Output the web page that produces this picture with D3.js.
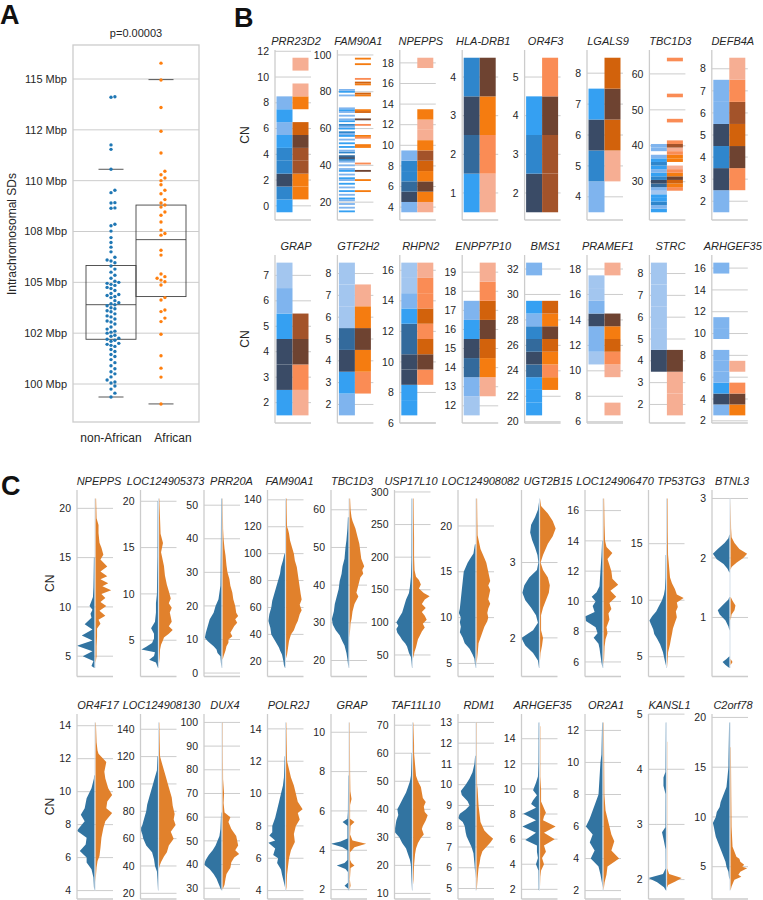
<!DOCTYPE html>
<html lang="en">
<head>
<meta charset="UTF-8">
<title>CN panels</title>
<script src="https://d3js.org/d3.v7.min.js"></script>
<style>
  body { margin: 0; background: #fff; }
  svg { display: block; font-family: "Liberation Sans", Arial, sans-serif; }
</style>
</head>
<body>
<svg></svg>
<script>
const width = 763, height = 900;
const gridCol = "#cccccc", textCol = "#262626";

// ---------- panel A data ----------
const aGroups = ["non-African", "African"];
const aTicks = [100, 102.5, 105, 107.5, 110, 112.5, 115];
const aTickLabels = ["100 Mbp", "102 Mbp", "105 Mbp", "108 Mbp", "110 Mbp", "112 Mbp", "115 Mbp"];
const aNonAfr = [114.13, 114.1, 111.76, 111.54, 110.56, 109.53, 109.41, 108.92, 108.9, 108.66, 108.64,
  107.86, 107.78, 107.52, 107.2, 106.96, 106.73, 106.5, 106.23, 106.1, 106.05, 105.96, 105.8, 105.65,
  105.5, 105.35, 105.2, 105.05, 105.0, 104.95, 104.9, 104.85, 104.75, 104.7, 104.6, 104.45, 104.4,
  104.35, 104.3, 104.25, 104.1, 104.0, 103.95, 103.9, 103.85, 103.75, 103.7, 103.6, 103.55, 103.45,
  103.35, 103.3, 103.2, 103.1, 103.05, 102.95, 102.8, 102.7, 102.6, 102.55, 102.5, 102.4, 102.35,
  102.25, 102.2, 102.15, 102.1, 102.0, 101.95, 101.9, 101.85, 101.7, 101.6, 101.45, 101.35, 101.2,
  101.05, 100.9, 100.75, 100.6, 100.5, 100.35, 100.2, 100.1, 100.05, 99.9, 99.75, 99.55, 99.36];
const aAfr = [115.78, 114.95, 113.6, 112.43, 111.36, 110.46, 110.29, 110.13, 110.0, 109.8, 109.53,
  109.36, 109.07, 108.9, 108.8, 108.7, 108.46, 108.3, 107.97, 107.57, 107.4, 107.32, 106.58, 106.34,
  105.41, 105.28, 105.2, 105.11, 105.03, 104.87, 104.25, 104.13, 103.64, 103.56, 103.24, 103.07,
  102.45, 101.39, 100.78, 100.34, 99.02];
const aQ1 = [102.2, 104.3];
const aMed = [103.9, 107.1];
const aQ3 = [105.83, 108.8];
const aWhisLo = [99.36, 99.02];
const aWhisHi = [110.56, 114.97];

// ---------- panel B data : [CN, colour level] ----------
const bGenes = ["PRR23D2", "FAM90A1", "NPEPPS", "HLA-DRB1", "OR4F3", "LGALS9", "TBC1D3", "DEFB4A",
  "GRAP", "GTF2H2", "RHPN2", "ENPP7P10", "BMS1", "PRAMEF1", "STRC", "ARHGEF35"];
const bTicks = [
  [0, 2, 4, 6, 8, 10, 12], [20, 40, 60, 80, 100], [4, 6, 8, 10, 12, 14, 16, 18], [1, 2, 3, 4],
  [2, 3, 4, 5], [4, 5, 6, 7, 8], [30, 40, 50, 60], [2, 3, 4, 5, 6, 7, 8],
  [2, 3, 4, 5, 6, 7], [2, 3, 4, 5, 6, 7, 8], [6, 8, 10, 12, 14, 16], [12, 13, 14, 15, 16, 17, 18, 19],
  [20, 22, 24, 26, 28, 30, 32], [6, 8, 10, 12, 14, 16, 18], [2, 3, 4, 5, 6, 7, 8], [2, 4, 6, 8, 10, 12, 14, 16]
];
const bNonAfr = [
  [[0,2],[1,3],[2,5],[3,3],[4,3],[5,2],[6,1],[7,2],[8,1]],
  [[15,2],[17,1],[19,1],[21,1],[22,2],[24,1],[26,2],[28,1],[30,2],[32,1],[33,2],[35,1],[37,2],[38,1],
   [40,1],[42,1],[43,3],[44,5],[45,4],[47,3],[48,1],[50,2],[52,2],[54,1],[56,2],[57,1],[58,3],[60,2],
   [61,1],[62,3],[64,2],[65,1],[67,1],[69,1],[70,2],[71,1],[78,1],[80,2],[81,1]],
  [[4,1],[5,5],[6,4],[7,3],[8,3],[9,1]],
  [[1,2],[2,4],[3,5],[4,3]],
  [[2,5],[3,3],[4,2]],
  [[4,1],[5,3],[6,5],[7,2]],
  [[22,2],[23,1],[24,3],[25,2],[26,2],[27,0],[28,1],[29,4],[30,5],[31,3],[32,2],[33,1],[34,2],[35,3],
   [36,2],[37,1],[39,1],[40,1]],
  [[2,1],[3,5],[4,3],[5,5],[6,1],[7,1]],
  [[2,2],[3,5],[4,5],[5,2],[6,1],[7,0]],
  [[2,1],[3,2],[4,5],[5,4],[6,0],[7,0],[8,0]],
  [[7,2],[8,2],[9,5],[10,5],[11,4],[12,4],[13,2],[14,1],[15,0],[16,0]],
  [[12,0],[13,1],[14,4],[15,5],[16,2],[17,1]],
  [[21,2],[22,2],[23,2],[24,4],[25,5],[26,4],[27,3],[28,1],[29,2],[32,1]],
  [[11,0],[12,1],[13,1],[14,5],[15,1],[16,0],[17,0]],
  [[4,5],[5,0],[6,0],[7,0],[8,0]],
  [[3,1],[4,5],[5,2],[6,1],[7,1],[8,1],[10,1],[11,1],[16,1]]
];
const bAfr = [
  [[1,2],[2,2],[3,4],[4,4],[5,5],[6,3],[8,2],[9,0],[11,0]],
  [[26,2],[32,2],[37,5],[41,1],[50,2],[51,2],[55,1],[56,2],[62,1],[65,5],[69,3],[70,2],[78,2],[79,3],
   [84,2],[85,3],[87,1],[95,2],[98,2]],
  [[4,0],[5,2],[6,5],[7,2],[8,3],[9,4],[10,2],[11,0],[12,0],[13,2],[18,0]],
  [[1,0],[2,1],[3,2],[4,5]],
  [[2,4],[3,4],[4,5],[5,1]],
  [[5,0],[6,3],[7,5],[8,3]],
  [[28,1],[29,2],[30,3],[31,5],[32,2],[33,1],[34,0],[36,2],[37,2],[38,1],[39,0],[40,4],[41,1],
   [47,1],[54,1],[64,1]],
  [[3,1],[4,5],[5,3],[6,4],[7,1],[8,0]],
  [[2,0],[3,1],[4,5],[5,4]],
  [[3,1],[4,2],[5,5],[6,2],[7,0]],
  [[9,1],[10,5],[11,3],[12,1],[13,3],[14,1],[15,1],[16,0]],
  [[13,0],[14,2],[15,3],[16,5],[17,3],[18,1],[19,0]],
  [[23,2],[24,1],[25,2],[26,3],[27,5],[28,2],[29,3]],
  [[7,0],[10,0],[11,1],[12,3],[13,2],[14,5],[18,0]],
  [[2,0],[3,0],[4,5]],
  [[3,2],[4,5],[5,1],[7,0]]
];
const bBluePal = ["#a3c6ef", "#7fb4ee", "#35a0f2", "#2f86cc", "#336a9c", "#3a4b66"];
const bOrangePal = ["#f6ae93", "#fa8c55", "#f57c10", "#d2620c", "#a3532a", "#6e4331"];

// ---------- panel C data : [CN, half width] ----------
const cGenes = ["NPEPPS", "LOC124905373", "PRR20A", "FAM90A1", "TBC1D3", "USP17L10", "LOC124908082",
  "UGT2B15", "LOC124906470", "TP53TG3", "BTNL3",
  "OR4F17", "LOC124908130", "DUX4", "POLR2J", "GRAP", "TAF11L10", "RDM1", "ARHGEF35", "OR2A1",
  "KANSL1", "C2orf78"];
const cTicks = [
  [5, 10, 15, 20], [5, 10, 15, 20], [0, 10, 20, 30, 40, 50], [20, 40, 60, 80, 100, 120, 140],
  [20, 30, 40, 50, 60], [50, 100, 150, 200, 250, 300], [5, 10, 15, 20], [2, 3],
  [6, 8, 10, 12, 14, 16], [5, 10, 15, 20], [1, 2, 3],
  [4, 6, 8, 10, 12, 14], [20, 40, 60, 80, 100, 120, 140], [30, 40, 50, 60, 70, 80, 90, 100],
  [4, 6, 8, 10, 12, 14], [2, 4, 6, 8, 10], [10, 20, 30, 40, 50, 60, 70], [5, 6, 7, 8, 9, 10, 11, 12, 13],
  [2, 4, 6, 8, 10, 12, 14, 16], [2, 4, 6, 8, 10, 12], [2, 3, 4, 5], [5, 10, 15, 20]
];
const cNonAfr = [
  [[15,0.5],[13,0.8],[12,1],[11,1.5],[10.6,3],[10.1,5],[9.7,2],[9.3,4],[8.9,3],[8.24,10],[7.7,2],[7.1,13],
   [6.6,2],[6.07,18],[5.5,2],[5.0,12],[4.5,1],[4.0,3],[3.8,0]],
  [[20,0.3],[14,0.5],[12,0.8],[10,1],[9,2],[8,2],[7,3],[6.3,7],[5.7,4],[5.2,4],[4.7,6],[4.3,12],[4.0,17],
   [3.7,3],[3.3,4],[2.9,9],[2.6,2],[2.3,1],[2.0,0]],
  [[52,0.3],[40,0.5],[30,0.8],[26,1],[24,2],[22,3],[20,6],[18,8],[16,12],[14,14],[12,16],[10.5,17],
   [9.5,14],[8,8],[7,5],[6,4],[5,1],[3,0.5],[1.5,0]],
  [[100,0.5],[95,2],[90,4],[85,5],[80,7],[75,9],[70,11],[65,13],[60,14],[55,16],[50,17],[45,15],[40,14],
   [35,10],[30,6],[28,5],[25,3],[20,1.5],[17,1],[15,0]],
  [[58,0.5],[55,1],[52,2],[50,3],[47,4],[45,6],[43,7],[41,9],[39,10],[37,12],[35,14],[33,15],[31,17],
   [29.5,16],[28,13],[26.7,9],[25,6],[24,4],[22,2],[20.3,1],[18,0]],
  [[290,0.3],[200,0.5],[170,1],[155,2],[145,3],[135,6],[125,8],[115,10],[108,13],[100,16],[95,14],
   [90,16],[84,15],[78,12],[73,10],[68,7],[63,5],[58,4],[53,3],[47,1],[40,0.5],[30,0]],
  [[18,0.5],[17,2],[16.5,5],[16,8],[15.5,10],[15,12],[14,13],[13,14],[12,15],[11,16],[10.5,17],[10,15],
   [9.5,16],[9,15],[8.4,16],[7.8,13],[7.2,11],[6.6,6],[6,3],[5.5,1],[5,0.5],[4.5,0]],
  [[3.8,0],[3.7,1],[3.6,4],[3.5,8],[3.4,9],[3.3,7],[3.2,4],[3.1,1.5],[3.0,0.5],[2.9,2],[2.8,10],[2.7,15],
   [2.6,17],[2.5,14],[2.4,8],[2.3,3],[2.2,1],[2.1,6],[2.0,18],[1.9,14],[1.8,6],[1.7,1],[1.6,0]],
  [[14,0.3],[13,1],[12,2],[11,3],[10.6,6],[10.3,11],[10,7],[9.7,10],[9.3,8],[9,18],[8.7,17],[8.3,7],
   [7.9,5],[7.6,9],[7.2,4],[6.9,3],[6.45,2],[6,1],[5.6,0]],
  [[14,0.3],[12,0.5],[11,1],[10.5,2],[10,4],[9.5,7],[9,10],[8.6,14],[8.2,17],[7.8,15],[7.4,13],[7,12],
   [6.6,9],[6.1,6],[5.4,3],[4.6,1],[4.2,0]],
  [[2.4,0],[2.33,1],[2.25,5],[2.15,12],[2.07,17],[1.98,13],[1.9,6],[1.82,2],[1.75,0],[1.35,0],[1.3,1],
   [1.22,6],[1.12,12],[1.05,10],[0.95,4],[0.85,1],[0.78,0],[0.35,0],[0.3,3],[0.25,7],[0.2,4],[0.15,0]],
  [[11,0.3],[10.8,0.5],[10.2,3],[9.6,8],[9.0,10],[8.6,14],[8.2,10],[7.63,18],[7.2,8],[6.8,9],[6.4,15],
   [6.0,8],[5.7,8],[5.3,3],[4.8,1],[4.2,0.5],[4.0,0]],
  [[120,0.5],[110,1],[105,3],[100,5],[95,7],[90,9],[85,11],[80,12],[75,14],[70,16],[67,18],[63,16],
   [60,15],[55,12],[50,6],[45,4],[40,3],[36,1],[30,0.5],[22,0]],
  [[62,0.3],[55,1],[52,2],[50,4],[48,6],[46,9],[44,13],[42,16],[40,18],[38,12],[36,8],[34,5],[32,3],
   [30,1],[29,0]],
  [[12.3,0.3],[11,1],[10.5,2],[10,4],[9.5,6],[9,8],[8.5,10],[8,13],[7.6,13],[7.4,16],[7.1,10],[6.96,17],
   [6.6,10],[6.2,12],[6,7],[5.7,8],[5.3,4],[5,3],[4.5,1],[4.2,0]],
  [[7.8,0.3],[6,0.5],[5.6,1],[5.44,6],[5.25,1],[4.6,1],[4.45,8],[4.33,18],[4.15,6],[4.0,1],[3.5,1],
   [3.35,4],[3.22,12],[3.05,3],[2.9,0.5],[2.35,0.5],[2.19,4],[2.05,0.5],[1.95,0]],
  [[60,0.3],[52,1],[50,2],[48,4],[46,6],[44,9],[42,12],[40,15],[38,14],[36,16],[34,17],[32,18],[30,13],
   [28,10],[26,6],[24,4],[22,2],[20,1],[15,0.5],[11,0]],
  [[11.4,0.3],[11,1],[10.6,3],[10.3,6],[10,10],[9.7,15],[9.5,14],[9.2,8],[9.0,6],[8.8,10],[8.6,16],
   [8.4,18],[8.2,13],[8,11],[7.7,10],[7.5,9],[7.2,6],[7,4],[6.7,2],[6.2,1],[5.8,0.3],[5.5,0]],
  [[15.3,0.3],[12,0.5],[11,1],[10.5,3],[9.9,6],[9.5,2],[9.1,6],[8.8,8],[8.5,3],[8.02,16],[7.5,3],
   [7.0,17],[6.5,3],[5.94,14],[5.5,2],[5.0,2],[4.5,1],[4.0,3],[3.5,0.5],[2,0.3],[1.9,0]],
  [[12.5,0.3],[10.5,1],[10,2],[9,3],[8,4],[7.5,7],[7,10],[6.5,13],[6,17],[5.5,10],[5,13],[4.5,8],
   [4,12],[3.5,4],[3,2],[2.5,0.5],[2.2,0]],
  [[4.85,0.2],[3.95,0.5],[3.85,2.5],[3.7,2.5],[3.55,0.4],[2.95,0.5],[2.86,4],[2.7,2],[2.55,0.4],
   [2.2,0.3],[2.1,3],[2.03,18],[1.95,9],[1.86,2],[1.8,0]],
  [[19.5,0.3],[15.5,1],[15,1],[14,2],[13,3],[12.5,5],[12,7],[11.5,9],[11,10],[10.5,13],[10,14],
   [9.4,17],[9,16],[8.5,15],[8,14],[7.5,12],[7,10],[6.5,8],[6,6],[5.5,4],[5,3],[4.5,1],[4,0.5],[3.7,0]]
];
const cAfr = [
  [[21,0.5],[19,1],[18.3,3],[17.5,3],[16.5,4],[16,6],[15.3,8],[14.8,5],[14.1,12],[13.6,5],[13.1,12],
   [12.8,5],[12.4,13],[12.1,7],[11.7,16],[11.3,6],[10.9,10],[10.5,5],[10.1,11],[9.6,4],[9.1,10],[8.7,3],
   [8.3,5],[7.8,1.5],[7,1.5],[6,1],[5,1],[4.3,0]],
  [[20.3,0.3],[18,1],[16.5,1.5],[15.5,4],[14.5,2],[14,3],[13,5],[12,6],[11,8],[10.3,10],[9.5,12],[9,10],
   [8.5,13],[8,11],[7.5,12],[7,13],[6.5,10],[6.1,14],[5.7,10],[5.3,5],[5,4],[4.5,2],[4,1],[3,0.5],[2.5,0]],
  [[52,0.2],[43,0.5],[40,1],[37,2],[35,3],[32,4],[30,5],[28,7],[26,8],[24,10],[22,11],[20,13],[18,14],
   [17,16],[16,13],[15,15],[14,12],[12,8],[11,10],[10,6],[9,6],[8,4],[6.7,3],[5,1],[4,0]],
  [[141,0.5],[130,0.7],[120,1],[118,2],[115,3],[110,4],[105,6],[100,8],[95,9],[90,11],[85,12],[80,13],
   [75,14],[70,15],[66,16],[62,14],[58,16],[55,14],[50,12],[47,10],[43,8],[40,5],[35,3],[30,2],[25,1],[22,0]],
  [[63,0.5],[60,1],[58,2],[57,3],[55,6],[53,8],[51,10],[49,11],[47,12],[45,15],[44,13],[43,14],[42,11],
   [40,9],[38,7],[37,9],[35,5],[33,3],[31,2],[30,1],[28,0.5],[26,0]],
  [[290,0.5],[260,0.7],[230,1],[200,1],[180,1.5],[170,3],[165,6],[158,8],[152,6],[145,11],[140,17],
   [135,12],[128,9],[122,13],[116,9],[110,12],[104,14],[98,10],[92,12],[86,9],[80,7],[74,5],[68,4],
   [62,3],[55,1.5],[48,0.5],[45,0]],
  [[23,0.5],[21,0.7],[19,1],[18.5,2],[17.5,4],[17,6],[16.5,8],[16,10],[15.5,11],[15,12],[14.5,13],[14,14],
   [13.5,12],[13,14],[12.5,13],[12,12],[11.5,14],[11,12],[10.5,11],[10,12],[9.6,11],[9,8],[8.4,6],[7.8,4],
   [7.2,2],[6,1],[5,0]],
  [[3.85,0],[3.75,1],[3.65,8],[3.55,13],[3.45,16],[3.35,13],[3.25,8],[3.1,3],[3.0,0.5],[2.9,3],[2.8,8],
   [2.7,10],[2.6,9],[2.5,6],[2.4,3],[2.3,1],[2.1,1],[2.0,3],[1.9,2],[1.8,0.5],[1.7,0]],
  [[16.8,0.5],[15,1],[14,1.5],[13.6,3],[13.2,9],[12.8,4],[12.4,6],[12,8],[11.5,9],[11.1,15],[10.7,7],
   [10.3,13],[9.9,6],[9.5,8],[9.2,5],[8.8,6],[8.3,3],[7.9,4],[7.5,2],[7,1],[6.2,0.5],[5.8,0]],
  [[19,0.5],[16,0.7],[14,1],[13,2],[12,3],[11.5,5],[11,8],[10.5,10],[10.2,17],[9.8,10],[9.4,11],[9,9],
   [8.5,10],[8,8],[7.5,6],[7,5],[6.6,4],[6.1,3],[5.4,1],[4.6,0.5],[4,0]],
  [[3.0,0],[2.5,0.5],[2.35,1],[2.25,4],[2.15,9],[2.07,17],[2.0,13],[1.92,6],[1.85,1],[1.8,0],[1.35,0],
   [1.28,2],[1.2,5],[1.12,4],[1.05,1],[0.95,0],[0.3,0],[0.25,2],[0.2,0]],
  [[14.2,0.3],[13,1],[12.5,2],[12.3,3],[11.8,11],[11.2,9],[10.8,10],[10.2,13],[9.8,17],[9.4,12],[9.0,11],
   [8.7,17],[8.2,10],[7.8,8],[7.2,6],[6.6,5],[6.1,4],[5.8,2],[5.4,1],[5.0,0.5],[4.5,0]],
  [[145,0.3],[130,0.7],[120,1],[115,3],[110,5],[105,7],[100,9],[95,11],[90,13],[84,14],[78,16],[74,15],
   [70,17],[65,12],[60,15],[55,10],[50,8],[47,5],[43,2],[40,0.5],[38,0]],
  [[100,0.3],[90,0.3],[76,0.5],[70,1.5],[66,1],[62,2],[60,8],[58,6],[55,9],[52,14],[50,15],[48,16],
   [46,13],[44.4,17],[43,12],[41,9],[38.6,8],[36,4],[34,3],[31.5,2],[30,0.5],[29.5,0]],
  [[14.4,0.3],[13,0.7],[12,1],[11.5,3],[11,5],[10.5,8],[10,10],[9.5,12],[9.03,17],[8.8,12],[8.4,14],
   [8,10],[7.5,8],[7,9],[6.5,5],[6,3],[5.5,2],[5,1],[4.2,0.5],[4,0]],
  [[10.5,0.3],[8,0.5],[7,0.8],[6.6,2],[6.3,0.5],[5.6,0.5],[5.44,5],[5.25,1],[4.8,0.5],[4.5,3],[4.33,17],
   [4.15,5],[3.9,0.5],[3.5,0.5],[3.35,2],[3.22,5],[3.1,1],[2.5,0.3],[2.2,1],[2.0,0]],
  [[71,0.3],[63,1],[60,1],[56,2],[52,3],[50,5],[48,8],[46,9],[44,10],[42.6,13],[41,11],[39,12],[37.9,15],
   [36,13],[34,10],[33,9],[31,11],[29.8,8],[28,5],[26,3],[24,2],[20,1],[15,0.5],[13,0]],
  [[13,0.3],[11,0.3],[10,0.5],[9.8,1],[9,2],[8.6,3],[8.2,4],[8,6],[7.8,8],[7.6,12],[7.4,17],[7.2,14],
   [7,10],[6.8,6],[6.5,4],[6.2,3],[6,2],[5.5,1],[5,0.3],[4.9,0]],
  [[15,0.3],[11,0.3],[10,1],[9,1],[8.1,6],[7.8,4],[7.5,3],[7.0,16],[6.5,4],[6.0,15],[5.5,4],[5.0,6],
   [4.5,2],[4.0,4],[3.5,1],[3,0.3],[2.2,0]],
  [[12.5,0.3],[8,0.8],[7,2],[6.5,4],[6,6],[5.5,8],[5.08,11],[4.5,8],[4,16],[3.5,4],[3,3],[2.5,1],[2,0]],
  [[4.5,0.2],[2.2,0.2],[2.1,2],[2.03,15],[1.97,9],[1.9,1],[1.85,0]],
  [[17,0.3],[12,0.7],[9,1],[8,1.5],[7,2],[6.5,4],[6,6],[5.8,9],[5.5,10],[5.2,14],[5,12],[4.84,17],
   [4.5,10],[4.2,8],[4,11],[3.7,4],[3.5,3],[3,1],[2.6,0]]
];
const cBlue = "#3274a1", cOrange = "#e1812c";

// top-row titles of panel C are nudged apart so the long names do not collide
const cTitleShift = [1, 4, 6.5, 1, 0, -4.5, 1.5, 5.5, 9, 11.5, -1];

const svg = d3.select("svg")
    .attr("width", width)
    .attr("height", height);

// panel letters
[["A", 0, 24], ["B", 234, 27], ["C", 1, 495]].forEach(([t, x, y]) => {
  svg.append("text").attr("x", x).attr("y", y).text(t)
    .attr("font-size", 27).attr("font-weight", "bold").attr("fill", "#111");
});

function swarm(vals, cx, yS, r) {
  const placed = [];
  const dmin = 2 * r + 0.5;
  vals.slice().sort((a, b) => a - b).forEach(v => {
    const py = yS(v);
    let k = 0, px = cx;
    while (true) {
      const off = k === 0 ? 0 : (k % 2 ? 1 : -1) * Math.ceil(k / 2) * dmin;
      px = cx + off;
      const hit = placed.some(p => (p.x - px) ** 2 + (p.y - py) ** 2 < dmin * dmin);
      if (!hit) break;
      k++;
    }
    placed.push({ x: px, y: py });
  });
  return placed;
}

// ================= PANEL A =================
{
  const left = 73, right = 199, top = 45, bottom = 422;
  const y = d3.scaleLinear().domain([100, 115]).range([384, 79]);
  const xBox = d3.scaleBand().domain(aGroups).range([86, 186]);
  const xLab = d3.scalePoint().domain(aGroups).range([111, 173]);
  const g = svg.append("g");

  g.selectAll(".agrid").data(aTicks).join("line")
    .attr("x1", left).attr("x2", right)
    .attr("y1", d => y(d)).attr("y2", d => y(d))
    .attr("stroke", gridCol).attr("stroke-width", 1);
  g.selectAll(".atick").data(aTicks).join("text")
    .attr("x", left - 6).attr("y", d => y(d)).attr("dy", "0.35em")
    .attr("text-anchor", "end").attr("font-size", 11).attr("fill", textCol)
    .text((d, i) => aTickLabels[i]);
  g.append("rect").attr("x", left).attr("y", top).attr("width", right - left).attr("height", bottom - top)
    .attr("fill", "none").attr("stroke", gridCol).attr("stroke-width", 1.3);
  g.append("text").attr("transform", "translate(16,234) rotate(-90)")
    .attr("text-anchor", "middle").attr("font-size", 12).attr("fill", textCol)
    .text("Intrachromosomal SDs");
  g.append("text").attr("x", (left + right) / 2).attr("y", 37).attr("text-anchor", "middle")
    .attr("font-size", 11).attr("fill", textCol).text("p=0.00003");
  g.selectAll(".alab").data(aGroups).join("text")
    .attr("x", d => xLab(d)).attr("y", 442).attr("text-anchor", "middle")
    .attr("font-size", 12).attr("fill", textCol).text(d => d);

  aGroups.forEach((grp, i) => {
    const x0 = xBox(grp), bw = xBox.bandwidth(), cx = x0 + bw / 2;
    g.append("rect").attr("x", x0).attr("y", y(aQ3[i])).attr("width", bw)
      .attr("height", y(aQ1[i]) - y(aQ3[i]))
      .attr("fill", "none").attr("stroke", "#444").attr("stroke-width", 0.9);
    g.append("line").attr("x1", x0).attr("x2", x0 + bw).attr("y1", y(aMed[i])).attr("y2", y(aMed[i]))
      .attr("stroke", "#444").attr("stroke-width", 0.9);
    [aWhisLo[i], aWhisHi[i]].forEach(v => {
      g.append("line").attr("x1", cx - 12.5).attr("x2", cx + 12.5).attr("y1", y(v)).attr("y2", y(v))
        .attr("stroke", "#444").attr("stroke-width", 0.9);
    });
    const vals = i === 0 ? aNonAfr : aAfr;
    const pts = swarm(vals, cx, y, 1.7);
    g.selectAll(".pt" + i).data(pts).join("circle")
      .attr("cx", d => d.x).attr("cy", d => d.y).attr("r", 1.7)
      .attr("fill", i === 0 ? "#1f77b4" : "#ff7f0e");
  });
}

// ================= PANEL B =================
bGenes.forEach((gene, i) => {
  const row = i < 8 ? 0 : 1, col = i % 8;
  const ax = 275 + col * 62.4;
  const top = row ? 255 : 50, bottom = row ? 423 : 220;
  const all = bNonAfr[i].concat(bAfr[i]).map(d => d[0]);
  const lo = d3.min(all) - 0.5, hi = d3.max(all) + 0.5, pad = (hi - lo) * 0.05;
  const y = d3.scaleLinear().domain([lo - pad, hi + pad]).range([bottom, top]);
  const ticks = bTicks[i].filter(t => t >= lo - pad - 1e-6 && t <= hi + pad + 1e-6);
  const g = svg.append("g");

  g.selectAll("line.grid").data(ticks).join("line")
    .attr("x1", ax).attr("x2", ax + 36).attr("y1", d => y(d)).attr("y2", d => y(d))
    .attr("stroke", gridCol).attr("stroke-width", 1);
  g.selectAll("text.tick").data(ticks).join("text")
    .attr("x", ax - 6).attr("y", d => y(d)).attr("dy", "0.35em").attr("text-anchor", "end")
    .attr("font-size", 10.5).attr("fill", textCol).text(d => d);

  const cell = (data, x0, pal) => g.append("g").selectAll("rect").data(data).join("rect")
    .attr("x", x0).attr("width", 16)
    .attr("y", d => y(d[0] + 0.5)).attr("height", d => y(d[0] - 0.5) - y(d[0] + 0.5))
    .attr("fill", d => pal[d[1]]);
  cell(bNonAfr[i], ax + 1.5, bBluePal);
  cell(bAfr[i], ax + 17.5, bOrangePal);

  g.append("line").attr("x1", ax).attr("x2", ax).attr("y1", top).attr("y2", bottom)
    .attr("stroke", gridCol).attr("stroke-width", 1.3);
  g.append("line").attr("x1", ax).attr("x2", ax + 36).attr("y1", bottom).attr("y2", bottom)
    .attr("stroke", gridCol).attr("stroke-width", 1.3);
  g.append("text").attr("x", ax + 21).attr("y", top - 5).attr("text-anchor", "middle")
    .attr("font-size", 11).attr("font-style", "italic").attr("fill", textCol).text(gene);
  if (col === 0) {
    g.append("text").attr("transform", `translate(249,${(top + bottom) / 2}) rotate(-90)`)
      .attr("text-anchor", "middle").attr("font-size", 12).attr("fill", textCol).text("CN");
  }
});

// ================= PANEL C =================
const wScale = d3.scaleLinear().domain([0, 18]).range([0, 17.5]);
cGenes.forEach((gene, i) => {
  const row = i < 11 ? 0 : 1, col = i % 11;
  const ax = 77 + col * 63.5, cx = ax + 18;
  const top = row ? 714 : 490, bottom = row ? 899 : 676.5;
  const all = cNonAfr[i].concat(cAfr[i]).map(d => d[0]);
  const lo = d3.min(all), hi = d3.max(all), pad = (hi - lo) * 0.05;
  const y = d3.scaleLinear().domain([lo - pad, hi + pad]).range([bottom, top]);
  const ticks = cTicks[i].filter(t => t >= lo - pad - 1e-6 && t <= hi + pad + 1e-6);
  const g = svg.append("g");

  g.selectAll("line.grid").data(ticks).join("line")
    .attr("x1", ax).attr("x2", ax + 36).attr("y1", d => y(d)).attr("y2", d => y(d))
    .attr("stroke", gridCol).attr("stroke-width", 1);
  g.selectAll("text.tick").data(ticks).join("text")
    .attr("x", ax - 6).attr("y", d => y(d)).attr("dy", "0.35em").attr("text-anchor", "end")
    .attr("font-size", 10.5).attr("fill", textCol).text(d => d);

  // faint centre line over the full data range
  g.append("line").attr("x1", cx).attr("x2", cx).attr("y1", y(hi)).attr("y2", y(lo))
    .attr("stroke", "#d3dfea").attr("stroke-width", 1);

  const sortD = arr => arr.slice().sort((a, b) => a[0] - b[0]);
  const leftArea = d3.area().curve(d3.curveLinear)
    .y(d => y(d[0])).x0(d => cx - 0.6 - wScale(d[1])).x1(cx - 0.6);
  const rightArea = d3.area().curve(d3.curveLinear)
    .y(d => y(d[0])).x0(cx + 0.6).x1(d => cx + 0.6 + wScale(d[1]));
  g.append("path").datum(sortD(cNonAfr[i])).attr("d", leftArea).attr("fill", cBlue);
  g.append("path").datum(sortD(cAfr[i])).attr("d", rightArea).attr("fill", cOrange);

  g.append("line").attr("x1", ax).attr("x2", ax).attr("y1", top).attr("y2", bottom)
    .attr("stroke", gridCol).attr("stroke-width", 1.3);
  g.append("line").attr("x1", ax).attr("x2", ax + 36).attr("y1", bottom).attr("y2", bottom)
    .attr("stroke", gridCol).attr("stroke-width", 1.3);
  const tx = ax + 21 + (row === 0 ? cTitleShift[col] : 0);
  g.append("text").attr("x", tx).attr("y", top - 5).attr("text-anchor", "middle")
    .attr("font-size", 11).attr("font-style", "italic").attr("fill", textCol).text(gene);
  if (col === 0) {
    g.append("text").attr("transform", `translate(54,${(top + bottom) / 2}) rotate(-90)`)
      .attr("text-anchor", "middle").attr("font-size", 12).attr("fill", textCol).text("CN");
  }
});
</script>
</body>
</html>
